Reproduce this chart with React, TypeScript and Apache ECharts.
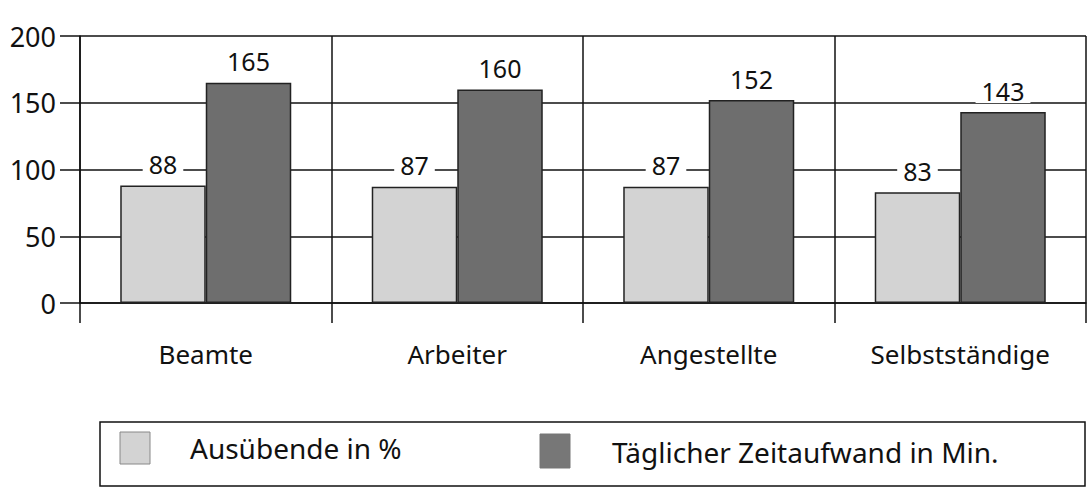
import React, { useEffect, useRef } from "react";
import * as echarts from "echarts";

const categories = ["Beamte", "Arbeiter", "Angestellte", "Selbstständige"];
const seriesNames = ["Ausübende in %", "Täglicher Zeitaufwand in Min."];
const ausuebende = [88, 87, 87, 83];
const zeitaufwand = [165, 160, 152, 143];
const yTicks = { min: 0, max: 200, interval: 50 };

const FONT = "Noto Sans";
const LIGHT = "#d3d3d3";
const DARK = "#6e6e6e";

export default function App() {
  const ref = useRef<HTMLDivElement>(null);
  useEffect(() => {
    if (!ref.current) return;
    const chart = echarts.init(ref.current, undefined, { renderer: "svg" });
    const labelStyle = {
      show: true,
      position: "top" as const,
      distance: 9,
      fontFamily: FONT,
      fontSize: 25,
      color: "#111",
      backgroundColor: "#fff",
      padding: [0, 6, 0, 6],
    };
    chart.setOption({
      animation: false,
      backgroundColor: "#fff",
      textStyle: { fontFamily: FONT },
      grid: { left: 80, right: 5, top: 36, bottom: 504 - 303 },
      xAxis: {
        type: "category",
        data: categories,
        boundaryGap: true,
        axisLine: { show: true, lineStyle: { color: "#111", width: 1.5 } },
        axisTick: { show: true, length: 20, lineStyle: { color: "#111", width: 1.5 } },
        splitLine: { show: true, lineStyle: { color: "#111", width: 1.5 } },
        axisLabel: { margin: 38, fontFamily: FONT, fontSize: 26, color: "#111" },
      },
      yAxis: {
        type: "value",
        min: yTicks.min,
        max: yTicks.max,
        interval: yTicks.interval,
        axisLine: { show: true, lineStyle: { color: "#111", width: 1.5 } },
        axisTick: { show: true, length: 20, lineStyle: { color: "#111", width: 1.5 } },
        splitLine: { show: true, lineStyle: { color: "#111", width: 1.5 } },
        axisLabel: { margin: 24, fontFamily: FONT, fontSize: 27, color: "#111" },
      },
      series: [
        {
          name: seriesNames[0],
          type: "bar",
          data: ausuebende,
          barGap: "0%",
          barCategoryGap: "32%",
          itemStyle: { color: LIGHT, borderColor: "#222", borderWidth: 1.5 },
          label: labelStyle,
        },
        {
          name: seriesNames[1],
          type: "bar",
          data: zeitaufwand,
          barGap: "0%",
          barCategoryGap: "32%",
          itemStyle: { color: DARK, borderColor: "#222", borderWidth: 1.5 },
          label: labelStyle,
        },
      ],
      graphic: [
        {
          type: "rect",
          shape: { x: 100, y: 422, width: 985, height: 64 },
          style: { fill: "none", stroke: "#111", lineWidth: 1.5 },
        },
        {
          type: "rect",
          shape: { x: 120, y: 432, width: 30, height: 32 },
          style: { fill: LIGHT, stroke: "#888", lineWidth: 1 },
        },
        {
          type: "text",
          x: 190,
          y: 448,
          style: {
            text: seriesNames[0],
            fontFamily: FONT,
            fontSize: 28,
            fill: "#111",
            verticalAlign: "middle",
          },
        },
        {
          type: "rect",
          shape: { x: 540, y: 434, width: 30, height: 34 },
          style: { fill: "#777", stroke: "#777", lineWidth: 1 },
        },
        {
          type: "text",
          x: 612,
          y: 452,
          style: {
            text: seriesNames[1],
            fontFamily: FONT,
            fontSize: 28,
            fill: "#111",
            verticalAlign: "middle",
          },
        },
      ],
    });
    return () => chart.dispose();
  }, []);
  return (
    <div
      ref={ref}
      style={{ position: "fixed", left: 0, top: 0, width: 1091, height: 504 }}
    />
  );
}
